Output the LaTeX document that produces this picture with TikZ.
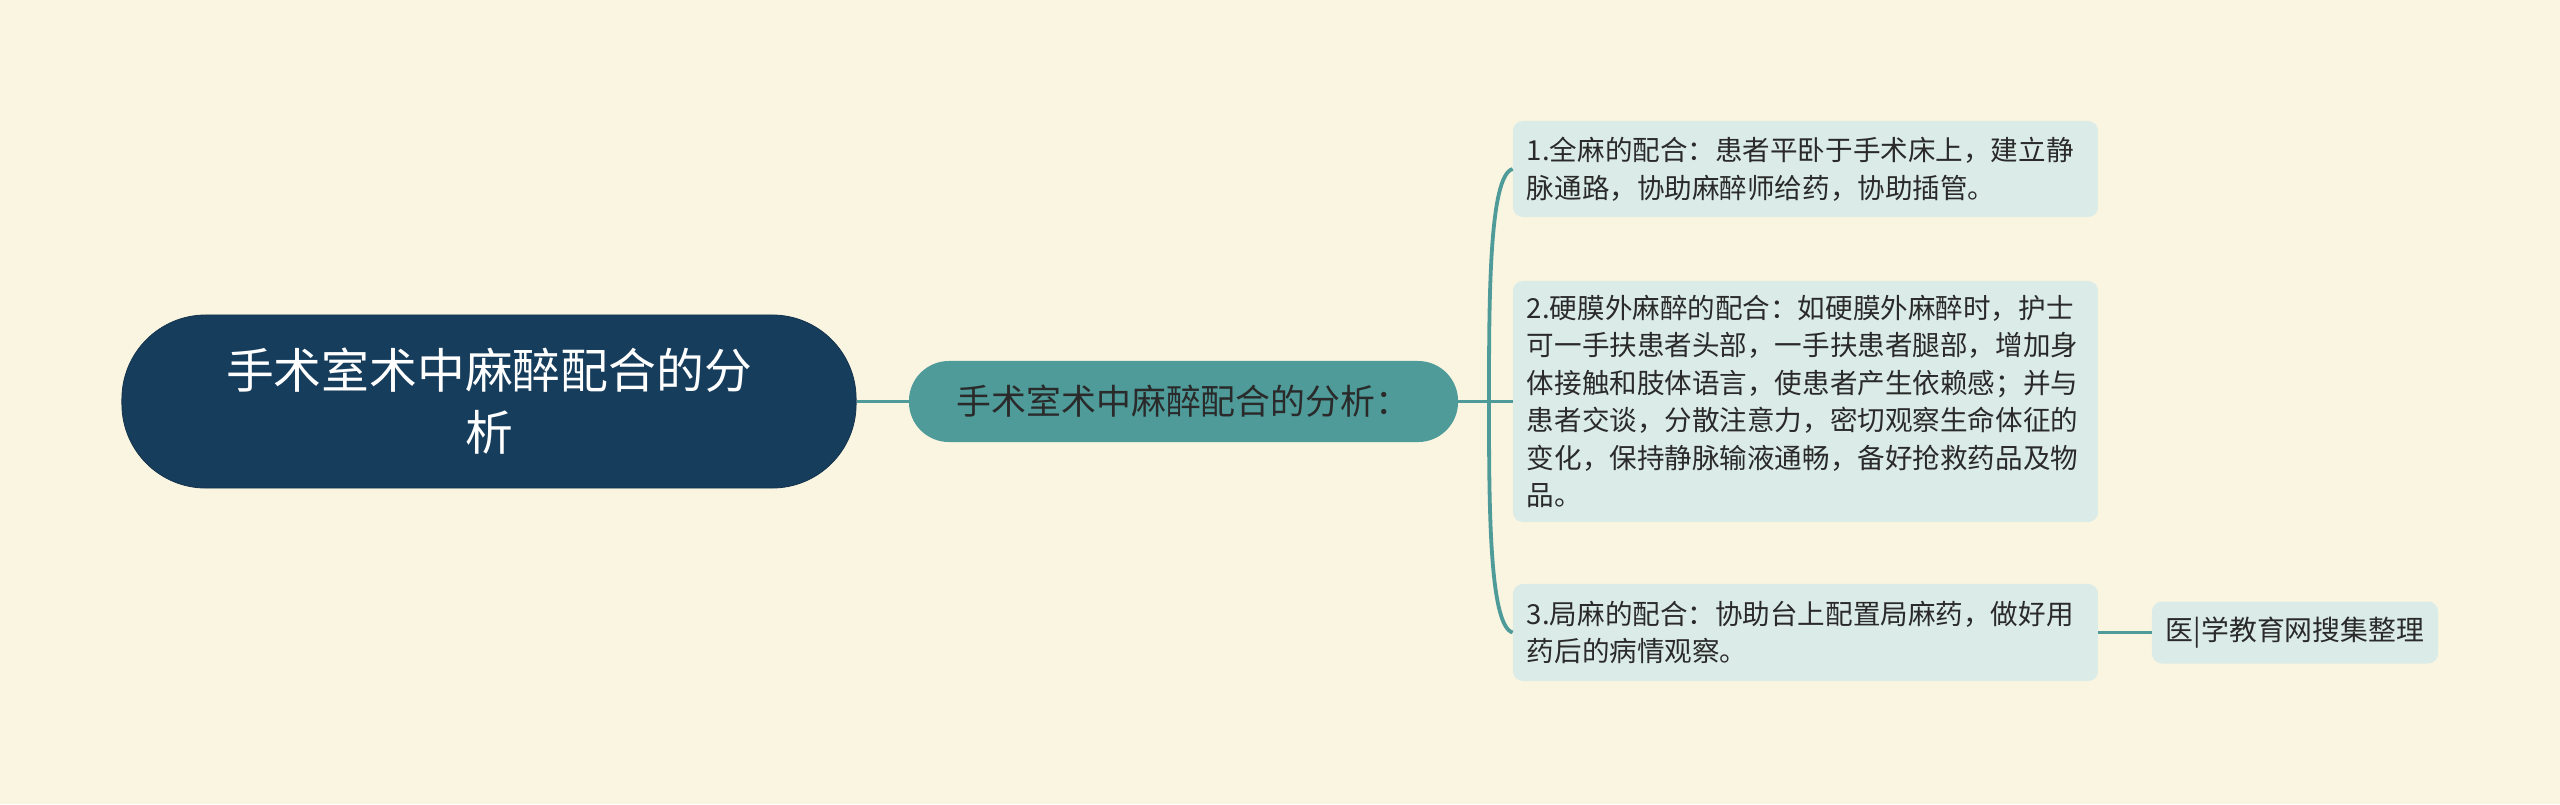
\documentclass[tikz,border=0pt]{standalone}
\usepackage{fontspec}
\newfontfamily\cjk{Noto Sans CJK SC}
\definecolor{bg}{HTML}{FAF5E1}
\definecolor{navy}{HTML}{173D5C}
\definecolor{tealc}{HTML}{4E9B9A}
\definecolor{leafc}{HTML}{DBEBE7}
\definecolor{ink}{HTML}{2A2A2A}
\begin{document}
\begin{tikzpicture}[x=0.025cm,y=-0.025cm,
  conn/.style={draw=tealc,line width=2.7pt},
  rootbox/.style={fill=navy,draw=navy!85!black,line width=0.6pt,rounded corners=2.1cm,
    minimum width=18.35cm,minimum height=4.325cm,inner sep=0pt,align=center,text=white,
    font=\cjk\fontsize{34pt}{44pt}\selectfont},
  midbox/.style={fill=tealc,rounded corners=1.0cm,minimum width=13.725cm,minimum height=2.025cm,
    inner sep=0pt,align=center,text=ink,font=\cjk\fontsize{24.8pt}{30pt}\selectfont},
  leafbox/.style={fill=leafc,rounded corners=0.25cm,text width=13.925cm,inner xsep=0.35cm,
    inner ysep=0pt,align=left,text=ink,font=\cjk\fontsize{19.6pt}{26.7pt}\selectfont},
  notebox/.style={fill=leafc,rounded corners=0.25cm,minimum width=7.15cm,minimum height=1.55cm,
    inner sep=0pt,align=center,text=ink,font=\cjk\fontsize{19.8pt}{26.7pt}\selectfont}]
\useasboundingbox[fill=bg] (0,0) rectangle (2560,804);

\node[rootbox] (root) at (489,401.5) {手术室术中麻醉配合的分\\析};
\node[midbox] (mid) at (1183.5,401.5) {手术室术中麻醉配合的分析：};
\node[leafbox,minimum height=2.4cm] (l1) at (1805.5,169) {1.全麻的配合：患者平卧于手术床上，建立静\\脉通路，协助麻醉师给药，协助插管。};
\node[leafbox,minimum height=6.025cm] (l2) at (1805.5,401.5) {2.硬膜外麻醉的配合：如硬膜外麻醉时，护士\\可一手扶患者头部，一手扶患者腿部，增加身\\体接触和肢体语言，使患者产生依赖感；并与\\患者交谈，分散注意力，密切观察生命体征的\\变化，保持静脉输液通畅，备好抢救药品及物\\品。};
\node[leafbox,minimum height=2.425cm] (l3) at (1805.5,632.5) {3.局麻的配合：协助台上配置局麻药，做好用\\药后的病情观察。};
\node[notebox] (l4) at (2295,632.5) {医|学教育网搜集整理};

\coordinate (j) at (1489,401.5);
\draw[conn] (root.east) -- (mid.west);
\draw[conn] (mid.east) -- (l2.west);
\draw[conn] (j) .. controls (1489,300) and (1489,175) .. (l1.west);
\draw[conn] (j) .. controls (1489,503) and (1489,626) .. (l3.west);
\draw[conn] (l3.east) -- (l4.west);
\end{tikzpicture}
\end{document}
